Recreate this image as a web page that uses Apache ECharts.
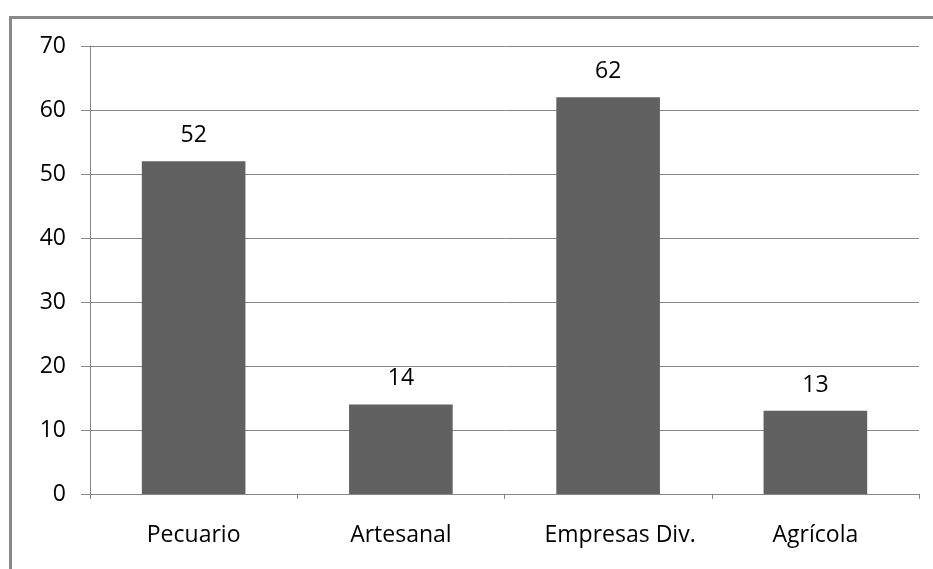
<!DOCTYPE html>
<html><head><meta charset="utf-8">
<script src="https://cdn.jsdelivr.net/npm/echarts@6/dist/echarts.min.js"></script>
<style>html,body{margin:0;padding:0;background:#fff}#c{width:933px;height:569px}</style>
</head><body><div id="c"></div>
<script>
const categories = ["Pecuario", "Artesanal", "Empresas Div.", "Agrícola"];
const values = [52, 14, 62, 13];
const yTicks = [0, 10, 20, 30, 40, 50, 60, 70];

const FONT = "'Open Sans', sans-serif";
const chart = echarts.init(document.getElementById('c'), null, {renderer: 'canvas'});
chart.setOption({
  animation: false,
  backgroundColor: '#fff',
  graphic: [{
    type: 'rect', silent: true,
    shape: {x: 10.5, y: 17.5, width: 1200, height: 1200},
    style: {fill: 'none', stroke: '#898989', lineWidth: 3}
  }],
  grid: {left: 90, right: 14, top: 46, bottom: 75, containLabel: false},
  xAxis: {
    type: 'category',
    data: categories.map(function (c, i) {
      return i === 2 ? {value: c, textStyle: {padding: [0, 0, 0, 24]}} : c;
    }),
    axisLine: {lineStyle: {color: '#868686', width: 1}},
    axisTick: {show: true, length: 5, alignWithLabel: false, lineStyle: {color: '#868686'}},
    axisLabel: {color: '#000', fontFamily: FONT, fontSize: 23, margin: 30}
  },
  yAxis: {
    type: 'value', min: yTicks[0], max: yTicks[yTicks.length - 1], interval: 10,
    axisLine: {show: true, lineStyle: {color: '#868686', width: 1}},
    axisTick: {show: true, length: 9, lineStyle: {color: '#868686'}},
    splitLine: {show: true, lineStyle: {color: '#868686', width: 1}},
    axisLabel: {color: '#000', fontFamily: FONT, fontSize: 23, margin: 24}
  },
  series: [{
    type: 'bar', data: values, barWidth: '50%',
    itemStyle: {color: '#616161'},
    label: {show: true, position: 'top', distance: 14, color: '#000', fontFamily: FONT, fontSize: 23}
  }]
});
</script></body></html>
